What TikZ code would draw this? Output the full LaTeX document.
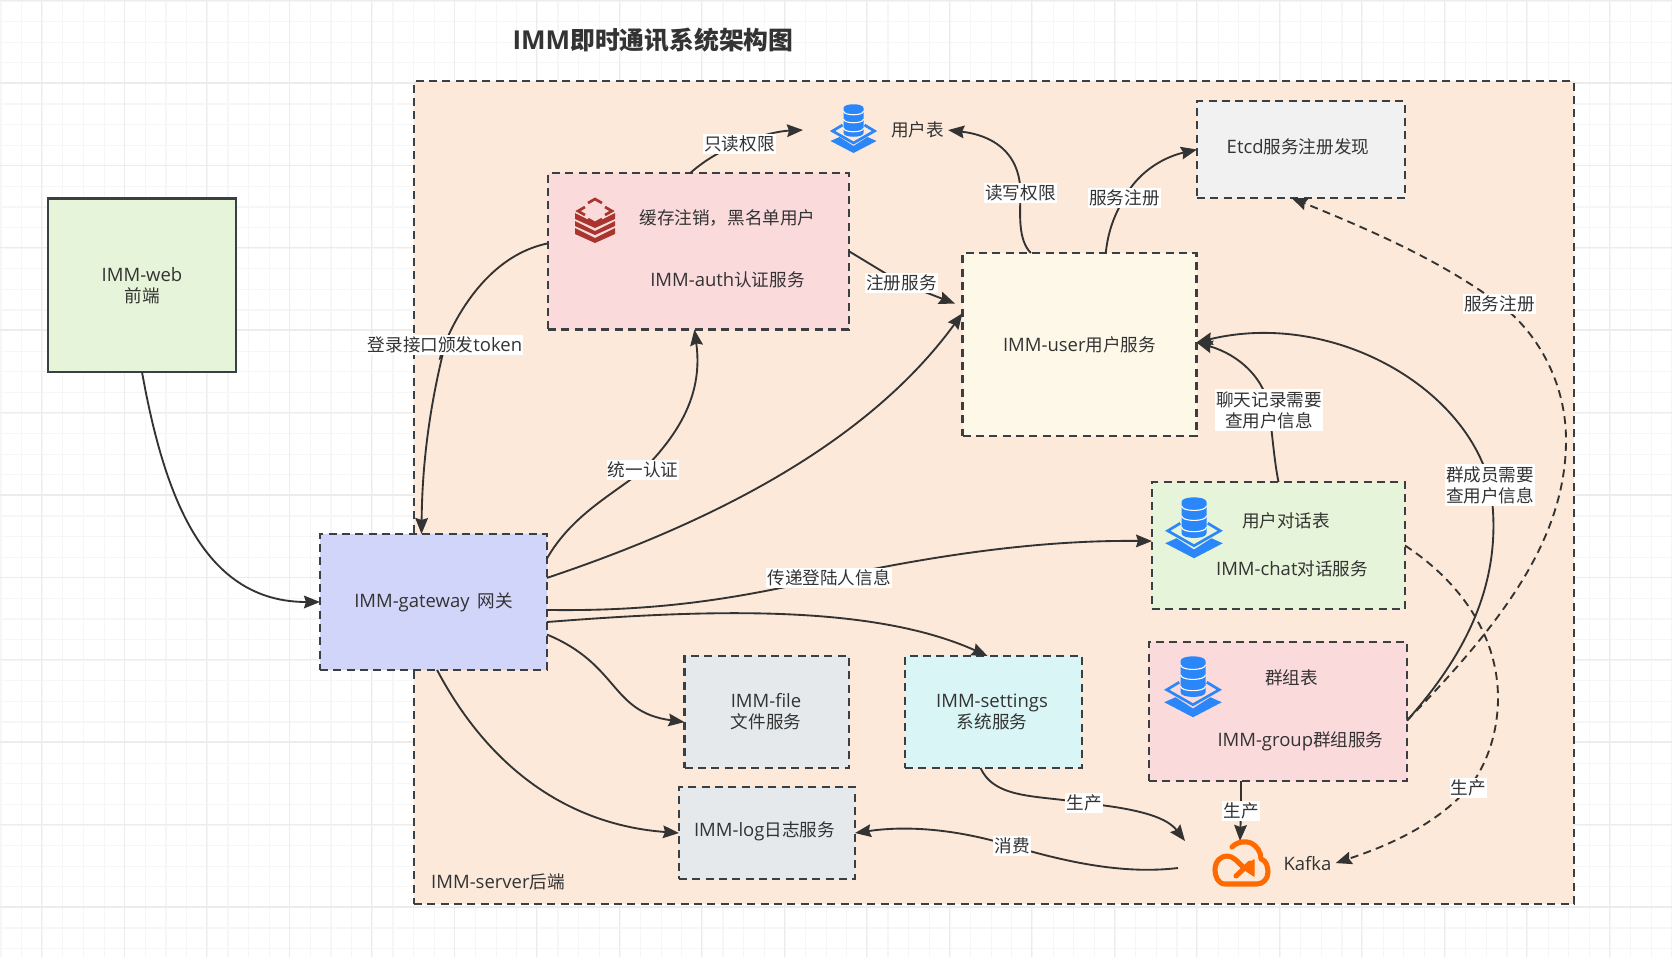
\documentclass[tikz,border=0pt]{standalone}
\usepackage{fontspec}
\setmainfont{Noto Sans CJK SC}
\newfontfamily\lat[Scale=1.05]{Open Sans}
\usetikzlibrary{arrows.meta}
\pgfdeclarelayer{boxes}
\pgfdeclarelayer{edges}
\pgfsetlayers{boxes,edges,main}
\definecolor{ink}{HTML}{333333}
\definecolor{frame}{HTML}{3A3F44}
\definecolor{serverfill}{HTML}{FCE9D9}
\definecolor{pinkfill}{HTML}{FADADB}
\definecolor{creamfill}{HTML}{FDF8E8}
\definecolor{grayfill}{HTML}{F1F1F1}
\definecolor{greenfill}{HTML}{E6F5D9}
\definecolor{bluefill}{HTML}{D1D5F9}
\definecolor{slatefill}{HTML}{E6E9EC}
\definecolor{cyanfill}{HTML}{D9F5F5}
\definecolor{dbblue}{HTML}{2B86F9}
\definecolor{redisred}{HTML}{A8362E}
\definecolor{cloudorange}{HTML}{FF6A00}
\definecolor{gridminor}{HTML}{F6F6F6}
\definecolor{gridmajor}{HTML}{ECECEC}
\tikzset{
  x=0.75pt,y=-0.75pt,
  boxtxt/.style={text=ink,font=\fontsize{13.2}{15.7}\selectfont,align=center,inner sep=3pt},
  txt/.style={boxtxt,yshift=-0.8pt},
  titletxt/.style={text=ink,font=\fontsize{18.6}{23}\selectfont\bfseries,inner sep=0pt},
  lbl/.style={txt,fill=white,inner xsep=0.8pt,inner ysep=1.5pt},
  dashbox/.style={draw=frame,line width=1.6pt,dash pattern=on 6pt off 4pt,anchor=north west,inner sep=0pt,outer sep=0pt,boxtxt},
  solidbox/.style={draw=frame,line width=1.6pt,anchor=north west,inner sep=0pt,outer sep=0pt,boxtxt},
  conn/.style={draw=ink,line width=1.4pt,-{Stealth[length=12pt,width=9.5pt,inset=1.5pt]}},
  dconn/.style={conn,dash pattern=on 6pt off 4pt},
  pics/dbicon/.style={code={
    \fill[dbblue] (-10,4) -- (-10,29) .. controls (-10,34) and (10,34) .. (10,29) -- (10,4) .. controls (10,-1) and (-10,-1) .. (-10,4) -- cycle;
    \draw[white,line width=0.8pt] (-10,7) .. controls (-10,12) and (10,12) .. (10,7);
    \draw[white,line width=0.8pt] (-10,15) .. controls (-10,20) and (10,20) .. (10,15);
    \draw[white,line width=0.8pt] (-10,24) .. controls (-10,29) and (10,29) .. (10,24);
    \draw[dbblue,line width=2pt,miter limit=6] (-11,21) -- (-21,27) -- (0,39) -- (21,27) -- (11,21);
    \fill[dbblue] (-14,33) -- (0,42) -- (14,33) -- (23,37) -- (0,49) -- (-23,37) -- cycle;
  }},
  pics/redisicon/.style={code={
    \draw[redisred,line width=2pt] (-7,4) -- (0,0) -- (7,4);
    \draw[redisred,line width=2pt] (-10,8) -- (-17,12) -- (-10,16);
    \draw[redisred,line width=2pt] (10,8) -- (17,12) -- (10,16);
    \draw[redisred,line width=2pt] (-7,20) -- (0,24) -- (7,20);
    \foreach \t/\b in {14/20,22/27,29/35}{
      \fill[redisred] (-20,\t) -- (0,\t+10) -- (20,\t) -- (20,\b) -- (0,\b+9) -- (-20,\b) -- cycle;
    }
  }},
  pics/cloudicon/.style={code={
    \draw[cloudorange,line width=3.8pt,line cap=round,line join=round]
      (102,67) .. controls (108,61) and (116,61) .. (121,63)
      .. controls (127,66) and (131,72) .. (131,79)
      .. controls (136,80) and (138,87) .. (138,92)
      .. controls (138,99) and (133,104) .. (127,104)
      -- (95,104) .. controls (88,104) and (85,96) .. (85,90)
      .. controls (85,81) and (91,76) .. (97,76)
      .. controls (103,76) and (107,81) .. (114,88);
    \draw[cloudorange,line width=3.8pt,line cap=round] (106,96) -- (120,83);
    \fill[cloudorange,draw=cloudorange,line join=round,line width=1pt] (124,80) -- (124,96) -- (112,88) -- cycle;
  }},
}
\begin{document}
\begin{tikzpicture}
\useasboundingbox (0,0) rectangle (1672,957);
\begin{pgfonlayer}{boxes}
  \fill[white] (0,0) rectangle (1672,957);
  \foreach \k in {0,...,81}{\draw[gridminor,line width=0.9pt] (1+20.63*\k,0) -- (1+20.63*\k,957);}
  \foreach \k in {0,...,46}{\draw[gridminor,line width=0.9pt] (0,1+20.6*\k) -- (1672,1+20.6*\k);}
  \foreach \k in {0,...,20}{\draw[gridmajor,line width=1pt] (41.7+82.5*\k,0) -- (41.7+82.5*\k,957);}
  \foreach \k in {0,...,11}{\draw[gridmajor,line width=1pt] (0,0.5+82.4*\k) -- (1672,0.5+82.4*\k);}
  % containers and services
  \node[dashbox,fill=serverfill,minimum width=1160*0.75pt,minimum height=823*0.75pt] (server) at (414,81) {};
  \node[solidbox,fill=greenfill,minimum width=188*0.75pt,minimum height=173.5*0.75pt] (web) at (48,198.5) {{\lat IMM-web}\\前端};
  \node[dashbox,fill=bluefill,minimum width=227*0.75pt,minimum height=136*0.75pt] (gw) at (320,534) {{\lat IMM-gateway}\hspace{3pt} 网关};
  \node[dashbox,fill=pinkfill,minimum width=301*0.75pt,minimum height=156.5*0.75pt] (auth) at (548,173) {};
  \node[dashbox,fill=creamfill,minimum width=234*0.75pt,minimum height=183*0.75pt] (user) at (962.5,253) {{\lat IMM-user}用户服务};
  \node[dashbox,fill=grayfill,minimum width=208*0.75pt,minimum height=97*0.75pt] (etcd) at (1197,101) {};
  \node[dashbox,fill=greenfill,minimum width=253*0.75pt,minimum height=127*0.75pt] (chat) at (1152,482) {};
  \node[dashbox,fill=pinkfill,minimum width=258*0.75pt,minimum height=139*0.75pt] (group) at (1149,642) {};
  \node[dashbox,fill=slatefill,minimum width=164.5*0.75pt,minimum height=112*0.75pt] (file) at (684.5,656) {};
  \node[dashbox,fill=cyanfill,minimum width=177*0.75pt,minimum height=112*0.75pt] (settings) at (905,656) {};
  \node[dashbox,fill=slatefill,minimum width=176*0.75pt,minimum height=92*0.75pt] (logsvc) at (679,787) {};
\end{pgfonlayer}

% plain texts
\node[titletxt] (title) at (653,40) {{\lat IMM}即时通讯系统架构图};
\node[txt] (serverlabel) at (498,881) {{\lat IMM-server}后端};
\node[txt] (usertable) at (917.5,129) {用户表};
\node[txt] (authnote) at (727.5,216.5) {缓存注销，黑名单用户};
\node[txt] (authname) at (727.5,279) {{\lat IMM-auth}认证服务};
\node[txt] (chatnote) at (1286,520) {用户对话表};
\node[txt] (chatname) at (1292,568) {{\lat IMM-chat}对话服务};
\node[txt] (groupnote) at (1291.5,677) {群组表};
\node[txt] (groupname) at (1300.5,740) {{\lat IMM-group}群组服务};
\node[txt] (etcdname) at (1298,146) {{\lat Etcd}服务注册发现};
\node[txt] (filename) at (766,711) {{\lat IMM-file}\\文件服务};
\node[txt] (settingsname) at (992,711) {{\lat IMM-settings}\\系统服务};
\node[txt] (logname) at (764.5,830.5) {{\lat IMM-log}日志服务};
\node[txt] (kafka) at (1307.5,862) {{\lat Kafka}};

% icons
\pic at (853.5,104) {dbicon};
\pic[scale=1.25] at (1194,497) {dbicon};
\pic[scale=1.25] at (1193,656) {dbicon};
\pic at (595,199) {redisicon};
\pic at (1130,780) {cloudicon};

% connector labels
\node[lbl] (lLogin) at (445,344) {登录接口颁发{\lat token}};
\node[lbl] (lUnified) at (643,469) {统一认证};
\node[lbl] (lReadonly) at (739.5,143) {只读权限};
\node[lbl] (lRegSvc) at (901.5,282) {注册服务};
\node[lbl] (lRw) at (1020.5,192) {读写权限};
\node[lbl] (lSvc1) at (1124.5,197) {服务注册};
\node[lbl] (lSvc2) at (1499.5,303) {服务注册};
\node[lbl] (lChatUser) at (1269,409) {聊天记录需要\\查用户信息};
\node[lbl] (lGroupUser) at (1490,484) {群成员需要\\查用户信息};
\node[lbl] (lPass) at (829,577) {传递登陆人信息};
\node[lbl] (lProd1) at (1084,802) {生产};
\node[lbl] (lProd2) at (1241,810) {生产};
\node[lbl] (lProd3) at (1468.5,787) {生产};
\node[lbl] (lConsume) at (1012,845) {消费};

% free connector ends
\coordinate (tableIcon) at (803,130);
\coordinate (kafkaTop) at (1240,841);
\coordinate (kafkaLeftIn) at (1185,841);
\coordinate (kafkaLeftOut) at (1178,868);

\begin{pgfonlayer}{edges}
  \draw[conn] (web.south) .. controls (165,500) and (205,602) .. (gw.west);
  \draw[conn] (auth.177) .. controls (455,262) and (428,400) .. (lLogin.center) .. controls (426,420) and (422,480) .. (gw.100.4);
  \draw[conn] (gw.21.6) .. controls (572,515) and (612,495) .. (lUnified.center) .. controls (688,425) and (702,385) .. (auth.-93.3);
  \draw[conn] (gw.12.9) .. controls (720,520) and (870,440) .. (user.165.5);
  \draw[conn] (gw.-4.5) .. controls (680,612) and (760,592) .. (lPass.center) .. controls (950,552) and (1050,540) .. (chat.178.4);
  \draw[conn] (gw.-10) .. controls (700,610) and (870,603) .. (settings.96.6);
  \draw[conn] (gw.-16.7) .. controls (620,665) and (610,712) .. (file.187);
  \draw[conn] (gw.-87) .. controls (490,770) and (570,825) .. (logsvc.west);
  \draw[conn,shorten >=6pt] (auth.east) -- (lRegSvc.center) -- (user.162);
  \draw[conn] (auth.96) .. controls (705,160) and (722,150) .. (lReadonly.center) .. controls (760,135) and (780,131) .. (tableIcon);
  \draw[conn] (user.118) .. controls (1018,240) and (1020,215) .. (lRw.center) .. controls (1020,150) and (990,135) .. (usertable.east);
  \draw[conn] (user.74.7) .. controls (1108,232) and (1114,215) .. (lSvc1.center) .. controls (1136,175) and (1160,158) .. (etcd.west);
  \draw[conn] (chat.north) .. controls (1274,460) and (1272,430) .. (lChatUser.center) .. controls (1266,380) and (1240,355) .. (user.1.7);
  \draw[conn] (group.-4) .. controls (1470,650) and (1505,575) .. (lGroupUser.center) .. controls (1465,385) and (1330,310) .. (user.1.7);
  \draw[dconn] (group.-4) .. controls (1500,625) and (1566,540) .. (1566,440) .. controls (1566,380) and (1535,330) .. (lSvc2.center) .. controls (1440,260) and (1370,230) .. (etcd.-101.6);
  \draw[dconn] (chat.east) .. controls (1465,585) and (1498,640) .. (1498,698) .. controls (1498,735) and (1485,768) .. (lProd3.center) .. controls (1435,825) and (1390,845) .. (kafka.east);
  \draw[conn] (group.-118) -- (lProd2.center) -- (kafkaTop);
  \draw[conn] (settings.-103.6) .. controls (995,800) and (1040,795) .. (lProd1.center) .. controls (1130,808) and (1165,815) .. (kafkaLeftIn);
  \draw[conn] (kafkaLeftOut) .. controls (1120,875) and (1060,860) .. (lConsume.center) .. controls (960,830) and (910,825) .. (logsvc.east);
\end{pgfonlayer}
\end{tikzpicture}
\end{document}
